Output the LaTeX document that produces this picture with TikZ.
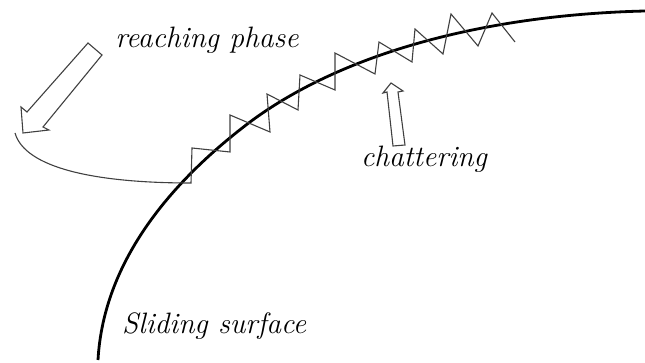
\documentclass[tikz,border=0pt]{standalone}
\usepackage{fontspec}
\begin{document}
\begin{tikzpicture}[x=1pt,y=-1pt,
  thinline/.style={draw=black!75,line width=1.1pt,line join=miter},
  mainline/.style={draw=black,line width=2.8pt},
  lab/.style={font=\fontsize{29.5}{35}\selectfont\itshape,inner sep=0pt}]
\useasboundingbox (0,0) rectangle (645,363);
% sliding surface
\draw[mainline] (98,360) .. controls (103,270) and (160,190) .. (250,122)
  .. controls (340,55) and (480,15) .. (645,11);
% reaching trajectory + chattering
\draw[thinline] (15,133) .. controls (25,168) and (95,183) .. (191,183)
  -- (192,148) -- (230,152) -- (230,115) -- (270,132) -- (267,94)
  -- (298,110) -- (300,75) -- (335,90) -- (335,53) -- (375,74)
  -- (379,42) -- (412,62) -- (415,29) -- (443,54) -- (451,14)
  -- (478,46) -- (492,13) -- (515,42);
% reaching arrow (hollow)
\draw[thinline] (88,43) -- (102,55) -- (43,127) -- (49,130) -- (23,133)
  -- (21,107) -- (27,112) -- cycle;
% chattering arrow (hollow)
\draw[thinline] (393,146) -- (387,92) -- (383,93) -- (391,83) -- (403,91)
  -- (398,92) -- (405,145) -- cycle;
\node[lab] (reach) at (207,40) {reaching phase};
\node[lab] (chat) at (424,159) {chattering};
\node[lab,anchor=west] (slide) at (122,326) {Sliding surface};
\end{tikzpicture}
\end{document}
